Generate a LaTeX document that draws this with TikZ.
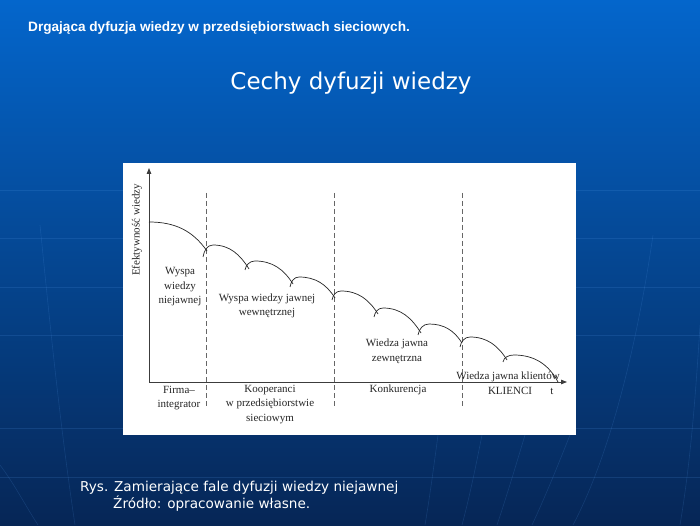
\documentclass[tikz,border=0pt]{standalone}
\usepackage{fontspec}
\setmainfont{Liberation Serif}
\newfontfamily\titlefont{Liberation Sans}
\newfontfamily\verdanafont{DejaVu Sans}
\usetikzlibrary{arrows.meta}
\definecolor{bgtop}{RGB}{4,102,204}
\definecolor{bgmid}{RGB}{0,72,150}
\definecolor{bgbot}{RGB}{6,38,86}
\definecolor{gridline}{RGB}{90,160,240}
\definecolor{axisgray}{RGB}{60,60,60}
\tikzset{
  wave/.style={draw=black!85, line width=0.7pt},
  divider/.style={draw=black!60, line width=0.7pt, dash pattern=on 5pt off 3pt},
  axisline/.style={draw=axisgray, line width=0.8pt, -{Triangle[length=6pt,width=4.5pt]}},
  lbl/.style={font=\fontsize{11}{14.5}\selectfont, align=center, inner sep=0pt, text=black!85},
  bgline/.style={draw=gridline, opacity=0.16, line width=0.6pt},
}
\begin{document}
\begin{tikzpicture}[x=1pt,y=1pt]
\useasboundingbox (0,0) rectangle (700,525);
% background
\shade[top color=bgtop, middle color=bgmid, bottom color=bgbot] (0,0) rectangle (700,525);
\foreach \yy in {335,287,238,190,97,48} \draw[bgline] (0,\yy) -- (700,\yy);
\draw[bgline] (40,300) .. controls (50,200) and (60,100) .. (75,0);
\draw[bgline] (0,60) .. controls (15,40) and (25,20) .. (38,0);
\draw[bgline] (438,90) .. controls (434,60) and (430,30) .. (425,0);
\draw[bgline] (482,90) .. controls (476,60) and (470,30) .. (462,0);
\draw[bgline] (525,90) .. controls (516,60) and (507,30) .. (497,0);
\draw[bgline] (570,90) .. controls (558,60) and (546,30) .. (532,0);
\draw[bgline] (653,290) .. controls (640,200) and (615,80) .. (573,0);
\draw[bgline] (700,200) .. controls (695,120) and (690,60) .. (680,0);
% titles
\node[anchor=west, text=white, font=\titlefont\bfseries\fontsize{13.6}{15}\selectfont, inner sep=0pt] (title) at (28,497) {Drgająca dyfuzja wiedzy w przedsiębiorstwach sieciowych.};
\node[text=white, font=\verdanafont\fontsize{23}{27}\selectfont, inner sep=0pt] (heading) at (351,442) {Cechy dyfuzji wiedzy};
% panel
\fill[white] (123,90) rectangle (576,362);
% dividers
\draw[divider] (206,332) -- (206,117);
\draw[divider] (334,332) -- (334,117);
\draw[divider] (462,332) -- (462,117);
% axes
\coordinate (origin) at (149,143);
\coordinate (ytip) at (149,357);
\coordinate (xtip) at (567,143);
\draw[axisline] (origin) -- (ytip);
\draw[axisline] (origin) -- (xtip);
% waves
\draw[wave] (149,303) to[out=0,in=125] (207,274);
\draw[wave] (203,268) to[out=80,in=180] (213,280) to[out=0,in=122] (249,256);
\draw[wave] (245,255) to[out=80,in=180] (255,264) to[out=0,in=122] (293,241);
\draw[wave] (290,238) to[out=80,in=180] (299,248) to[out=0,in=122] (335,227);
\draw[wave] (332,225) to[out=80,in=180] (341,234) to[out=0,in=122] (378,211);
\draw[wave] (374,208) to[out=80,in=180] (383,217) to[out=0,in=122] (421,192);
\draw[wave] (418,190) to[out=80,in=180] (429,201) to[out=0,in=122] (462,182);
\draw[wave] (460,178) to[out=80,in=180] (470,188) to[out=0,in=122] (507,165);
\draw[wave] (503,163) to[out=80,in=180] (514,170) to[out=0,in=118] (558,143);
% labels
\node[lbl, rotate=90] (ylab) at (137,295) {Efektywność wiedzy};
\node[lbl] (l1) at (180,238) {Wyspa\\wiedzy\\niejawnej};
\node[lbl] (l2) at (267,219) {Wyspa wiedzy jawnej\\wewnętrznej};
\node[lbl] (l3) at (397,173.5) {Wiedza jawna\\zewnętrzna};
\node[lbl] (l4) at (508,148) {Wiedza jawna klientów};
\node[lbl] (k1) at (179,127) {Firma–\\integrator};
\node[lbl] (k2) at (270,120.5) {Kooperanci\\w przedsiębiorstwie\\sieciowym};
\node[lbl] (k3) at (398,135) {Konkurencja};
\node[lbl] (k4) at (510,134) {KLIENCI};
\node[lbl] (tlab) at (552,134) {t};
% caption
\node[anchor=west, text=white, font=\verdanafont\fontsize{13.6}{16}\selectfont, inner sep=0pt] (cap1) at (80,37) {Rys. Zamierające fale dyfuzji wiedzy niejawnej};
\node[anchor=west, text=white, font=\verdanafont\fontsize{13.6}{16}\selectfont, inner sep=0pt] (cap2) at (113,21) {Źródło: opracowanie własne.};
\end{tikzpicture}
\end{document}
